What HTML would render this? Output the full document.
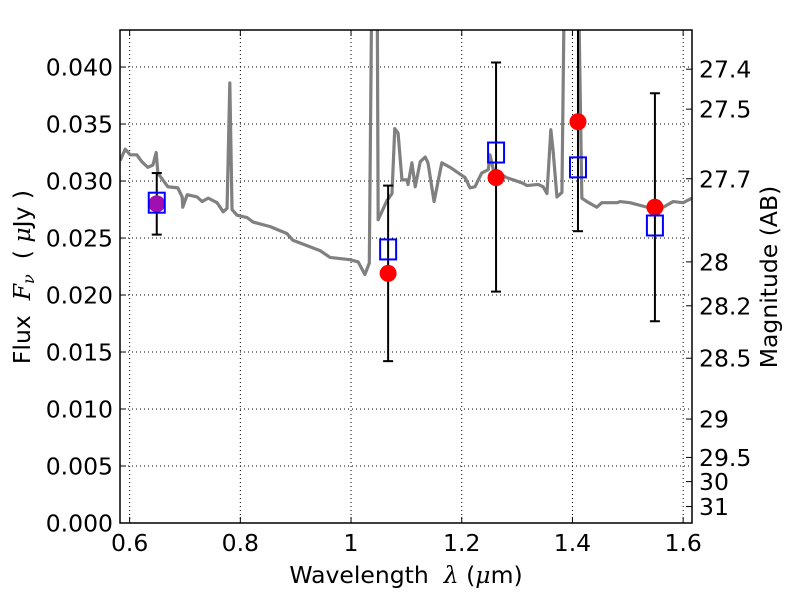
<!DOCTYPE html>
<html><head><meta charset="utf-8"><style>
body{margin:0;background:#fff;}
svg{font-family:"DejaVu Sans","Liberation Sans",sans-serif;}
</style></head><body>
<svg id="chart" width="800" height="600"></svg>
<script>
const specWl=[0.583,0.592,0.601,0.613,0.622,0.633,0.642,0.648,0.651,0.660,0.669,0.687,0.695,0.696,0.704,0.722,0.731,0.742,0.758,0.769,0.776,0.781,0.785,0.794,0.812,0.823,0.854,0.884,0.895,0.944,0.962,0.998,1.013,1.025,1.033,1.038,1.047,1.049,1.065,1.074,1.079,1.085,1.092,1.101,1.103,1.110,1.116,1.125,1.134,1.139,1.150,1.164,1.179,1.206,1.215,1.224,1.236,1.248,1.251,1.257,1.281,1.311,1.318,1.338,1.347,1.354,1.361,1.365,1.372,1.381,1.386,1.410,1.417,1.426,1.444,1.453,1.481,1.486,1.504,1.535,1.564,1.582,1.600,1.616];
const specFlux=[0.0318,0.0328,0.0323,0.0323,0.0317,0.0312,0.0314,0.0325,0.0307,0.0301,0.0295,0.0294,0.0286,0.0277,0.0288,0.0286,0.0282,0.0285,0.0281,0.0273,0.0276,0.0386,0.0275,0.0270,0.0268,0.0264,0.0260,0.0254,0.0248,0.0239,0.0233,0.0231,0.0229,0.0218,0.0228,0.05,0.05,0.0266,0.0283,0.0289,0.0346,0.0342,0.0301,0.0301,0.0297,0.0316,0.0295,0.0317,0.0321,0.0316,0.0282,0.0316,0.0312,0.0303,0.0294,0.0295,0.0307,0.0310,0.0323,0.0310,0.0303,0.0298,0.0296,0.0297,0.0295,0.0289,0.0345,0.0327,0.0286,0.0290,0.05,0.05,0.0285,0.0282,0.0277,0.0281,0.0281,0.0282,0.0281,0.0277,0.0277,0.0282,0.0281,0.0285];
const obsWl=[0.649,1.067,1.262,1.410,1.549];
const obsFlux=[0.0280,0.0219,0.0303,0.0352,0.0277];
const errLo=[0.0253,0.0142,0.0203,0.0256,0.0177];
const errHi=[0.0307,0.0296,0.0404,0.0500,0.0377];
const modelFlux=[0.0281,0.0240,0.0325,0.0312,0.0261];
const xTicks=[0.6,0.8,1.0,1.2,1.4,1.6];
const xTickLabels=["0.6","0.8","1","1.2","1.4","1.6"];
const yTicks=[0,0.005,0.010,0.015,0.020,0.025,0.030,0.035,0.040];
const yTickLabels=["0.000","0.005","0.010","0.015","0.020","0.025","0.030","0.035","0.040"];
const magTicks=[27.4,27.5,27.7,28,28.2,28.5,29,29.5,30,31];
const magTickLabels=["27.4","27.5","27.7","28","28.2","28.5","29","29.5","30","31"];

const NS="http://www.w3.org/2000/svg";
const svg=document.getElementById('chart');
const L=120,R=692,T=30,B=523;
const X0=0.5826,X1=1.616,Y0=0,Y1=0.04325;
const sx=v=>L+(v-X0)/(X1-X0)*(R-L);
const sy=v=>B-(v-Y0)/(Y1-Y0)*(B-T);
function mk(tag,attrs,parent){const e=document.createElementNS(NS,tag);for(const k in attrs)e.setAttribute(k,attrs[k]);(parent||svg).appendChild(e);return e;}
const defs=mk('defs',{});
const cp=mk('clipPath',{id:'clip'},defs);
mk('rect',{x:L,y:T,width:R-L,height:B-T},cp);

const grid=mk('g',{});


xTicks.forEach(t=>{mk('line',{x1:sx(t),x2:sx(t),y1:T,y2:B,stroke:'#000','stroke-width':1,'stroke-dasharray':'1,3'},grid);});
yTicks.forEach(t=>{mk('line',{x1:L,x2:R,y1:sy(t),y2:sy(t),stroke:'#000','stroke-width':1,'stroke-dasharray':'1,3'},grid);});

const plot=mk('g',{'clip-path':'url(#clip)'});
const sp=mk('polyline',{points:specWl.map((w,i)=>sx(w)+','+sy(specFlux[i])).join(' '),fill:'none',stroke:'#808080','stroke-width':3.2,'stroke-linejoin':'round'},plot);


obsWl.forEach((w,i)=>{
  const g=mk('g',{},plot);
  
  
  mk('line',{x1:sx(w),x2:sx(w),y1:sy(errLo[i]),y2:sy(errHi[i]),stroke:'#000','stroke-width':2},g);
  mk('line',{x1:sx(w)-5,x2:sx(w)+5,y1:sy(errLo[i]),y2:sy(errLo[i]),stroke:'#000','stroke-width':2},g);
  mk('line',{x1:sx(w)-5,x2:sx(w)+5,y1:sy(errHi[i]),y2:sy(errHi[i]),stroke:'#000','stroke-width':2},g);
});
obsWl.forEach((w,i)=>{
  const c=mk('circle',{cx:sx(w),cy:sy(obsFlux[i]),r:8.5,fill:i===0?'#a010b0':'#ff0000'},plot);
  
  
});
obsWl.forEach((w,i)=>{
  const s=mk('rect',{x:sx(w)-8,y:sy(modelFlux[i])-10,width:16,height:20,fill:'none',stroke:'#0000ff','stroke-width':2},plot);
  
  
});

const fr=mk('rect',{x:L,y:T,width:R-L,height:B-T,fill:'none',stroke:'#000','stroke-width':1.5});



xTicks.forEach((t,i)=>{
  mk('line',{x1:sx(t),x2:sx(t),y1:B,y2:B-6,stroke:'#000'});
  mk('line',{x1:sx(t),x2:sx(t),y1:T,y2:T+6,stroke:'#000'});
  const tx=mk('text',{x:sx(t),y:B+28,'text-anchor':'middle','font-size':23.5});
  tx.textContent=xTickLabels[i];
  
  
});
yTicks.forEach((t,i)=>{
  mk('line',{x1:L,x2:L+6,y1:sy(t),y2:sy(t),stroke:'#000'});
  const tx=mk('text',{x:L-7,y:sy(t)+8.5,'text-anchor':'end','font-size':23.5});
  tx.textContent=yTickLabels[i];
  
  
});
magTicks.forEach((m,i)=>{
  const f=Math.pow(10,(23.9-m)/2.5);
  const y=sy(f);
  mk('line',{x1:R,x2:R-6,y1:y,y2:y,stroke:'#000'});
  const tx=mk('text',{x:R+7,y:y+8.5,'text-anchor':'start','font-size':23.5});
  tx.textContent=magTickLabels[i];
  
  
});
</script>
<svg width="800" height="600" style="position:absolute;left:0;top:0">
<text x="406" y="583" text-anchor="middle" font-size="23.5" font-family="DejaVu Sans, sans-serif">Wavelength&#160;&#160;<tspan font-style="italic" font-family="DejaVu Serif, serif">λ</tspan>&#160;(<tspan font-style="italic" font-family="DejaVu Serif, serif">μ</tspan>m)</text>
<text transform="translate(30,277) rotate(-90)" text-anchor="middle" font-size="23.5" font-family="DejaVu Sans, sans-serif">Flux&#160;&#160;<tspan font-style="italic" font-family="DejaVu Serif, serif">F<tspan font-size="16" dy="4">ν</tspan></tspan><tspan dy="-4">&#160;&#160;(&#160;</tspan><tspan font-style="italic" font-family="DejaVu Serif, serif">μ</tspan>Jy&#160;)</text>
<text transform="translate(777,277) rotate(-90)" text-anchor="middle" font-size="23.5" font-family="DejaVu Sans, sans-serif">Magnitude (AB)</text>
</svg>
</body></html>
